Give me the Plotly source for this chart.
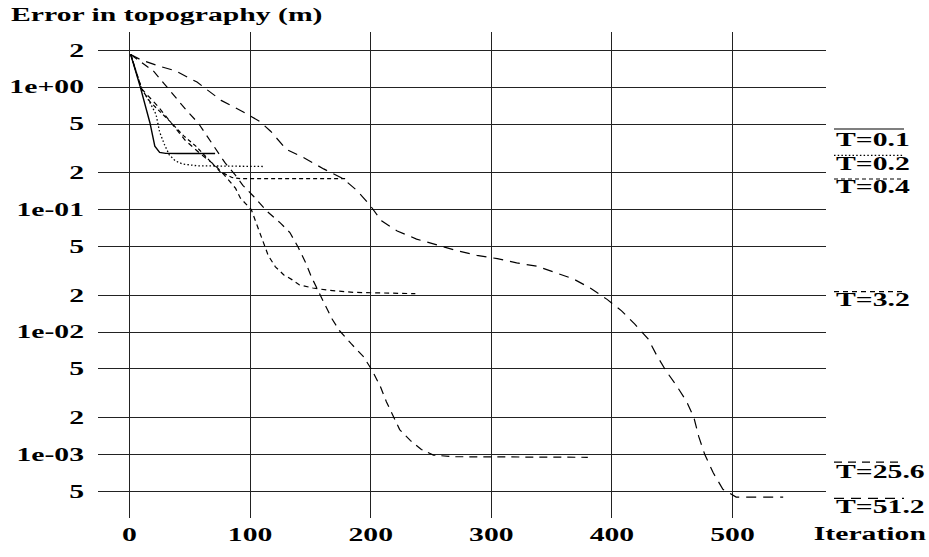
import plotly.graph_objects as go

# ---------------- data ----------------
t01_iter = [1, 9, 17, 21, 25, 30, 40, 71]
t01_err = [1.85, 1.0, 0.51, 0.33, 0.293, 0.288, 0.287, 0.287]

t02_iter = [1, 10, 16, 22, 25, 29, 33, 38, 44, 56, 112]
t02_err = [1.85, 0.97, 0.78, 0.6, 0.43, 0.34, 0.28, 0.25, 0.236, 0.228, 0.225]

t04_iter = [1, 10, 17, 27, 34, 45, 55, 65, 75, 85, 92, 180]
t04_err = [1.85, 0.97, 0.76, 0.61, 0.52, 0.4, 0.33, 0.26, 0.205, 0.183, 0.179, 0.179]

t32_iter = [1, 10, 24, 38, 46, 58, 71, 79, 88, 92, 101, 106, 111, 115, 121, 128,
            135, 141, 152, 166, 186, 202, 237]
t32_err = [1.85, 0.97, 0.69, 0.46, 0.37, 0.29, 0.23, 0.19, 0.149, 0.124, 0.1, 0.0735,
           0.054, 0.0423, 0.0341, 0.0293, 0.0267, 0.0243, 0.0229, 0.0219, 0.0211,
           0.0209, 0.0206]

t256_iter = [1, 10, 20, 29, 38, 47, 57, 64, 70, 79, 88, 94, 103, 114, 125, 133, 140,
             146, 151, 157, 162, 168, 174, 184, 194, 201, 208, 213, 219, 224, 233,
             242, 252, 269, 380]
t256_err = [1.85, 1.6, 1.35, 1.06, 0.83, 0.65, 0.51, 0.40, 0.33, 0.243, 0.19, 0.158,
            0.128, 0.097, 0.078, 0.065, 0.049, 0.037, 0.028, 0.0215, 0.0168, 0.0128,
            0.0103, 0.0080, 0.0063, 0.0049, 0.0036, 0.0027, 0.0020, 0.0016, 0.0013,
            0.0011, 0.00099, 0.00096, 0.00095]

t512_iter = [1, 9, 24, 38, 56, 76, 94, 108, 117, 130, 144, 161, 177, 188, 199, 209,
             222, 238, 255, 271, 288, 305, 321, 338, 351, 368, 382, 396, 408, 419,
             430, 437, 445, 454, 462, 468, 472, 477, 484, 492, 503, 542]
t512_err = [1.85, 1.68, 1.49, 1.36, 1.1, 0.78, 0.63, 0.525, 0.437, 0.311, 0.267,
            0.215, 0.179, 0.145, 0.11, 0.081, 0.067, 0.0575, 0.0515, 0.0464, 0.0423,
            0.0398, 0.0367, 0.0345, 0.0311, 0.0272, 0.0229, 0.0185, 0.0149, 0.0116,
            0.0088, 0.0065, 0.0048, 0.0036, 0.0027, 0.002, 0.0014, 0.001, 0.00071,
            0.00052, 0.00045, 0.00045]

series_names = ["T=0.1", "T=0.2", "T=0.4", "T=3.2", "T=25.6", "T=51.2"]

x_tickvals = [0, 100, 200, 300, 400, 500]
x_ticktext = ["0", "100", "200", "300", "400", "500"]
y_tickvals = [2, 1, 0.5, 0.2, 0.1, 0.05, 0.02, 0.01, 0.005, 0.002, 0.001, 0.0005]
y_ticktext = ["2", "1e+00", "5", "2", "1e-01", "5", "2", "1e-02", "5", "2", "1e-03", "5"]

# ---------------- style ----------------
W, H = 929, 557
ML, MR, MT, MB = 98, 103, 32, 29
PW, PH = W - ML - MR, H - MT - MB
FONT = "Liberation Serif"
FS = 18

series = [
    (t01_iter, t01_err, "solid", 1.4),
    (t02_iter, t02_err, "1.5px,2.2px", 1.3),
    (t04_iter, t04_err, "4px,3px", 1.2),
    (t32_iter, t32_err, "5px,4px", 1.2),
    (t256_iter, t256_err, "8px,6px", 1.2),
    (t512_iter, t512_err, "10px,7px", 1.2),
]

fig = go.Figure()
for (xs, ys, dash, w), name in zip(series, series_names):
    fig.add_trace(go.Scatter(x=xs, y=ys, mode="lines", name=name,
                             line=dict(color="#000", width=w, dash=dash),
                             showlegend=False))


def px_x(px):
    return (px - ML) / PW


def px_y(py):
    return (H - MB - py) / PH


legend_text_y = [142, 167, 190, 306, 481, 517]
legend_line_y = [131, 158, 182, 297, 471, 508]
legend_dash = [s[2] for s in series]

tfont = dict(family=FONT, size=FS, color="#000", weight="bold")
annotations = []
shapes = []
for name, ty, ly, dash in zip(series_names, legend_text_y, legend_line_y, legend_dash):
    annotations.append(dict(text=name, xref="paper", yref="paper", x=px_x(834), y=px_y(ty),
                            xanchor="left", yanchor="middle", showarrow=False, font=tfont))
    shapes.append(dict(type="line", xref="paper", yref="paper",
                       x0=px_x(834), x1=px_x(904), y0=px_y(ly), y1=px_y(ly),
                       line=dict(color="#000", width=1.2, dash=dash)))

annotations.append(dict(text="Error in topography (m)", xref="paper", yref="paper",
                        x=px_x(9), y=px_y(15), xanchor="left", yanchor="middle",
                        showarrow=False, font=tfont))
annotations.append(dict(text="Iteration", xref="paper", yref="paper",
                        x=px_x(928), y=px_y(544), xanchor="right", yanchor="middle",
                        showarrow=False, font=tfont))

fig.update_layout(
    width=W, height=H,
    margin=dict(l=ML, r=MR, t=MT, b=MB, pad=0),
    plot_bgcolor="white", paper_bgcolor="white",
    annotations=annotations, shapes=shapes,
    xaxis=dict(range=[-26.1, 577.5], tickvals=x_tickvals, ticktext=x_ticktext,
               showgrid=True, gridcolor="#222", gridwidth=1, zeroline=False,
               showline=False, ticks="", ticklabelstandoff=4, tickfont=tfont),
    yaxis=dict(type="log", range=[-3.518, 0.4504], tickvals=y_tickvals,
               ticktext=y_ticktext, showgrid=True, gridcolor="#222", gridwidth=1,
               zeroline=False, showline=False, ticks="", ticklabelstandoff=13,
               tickfont=tfont),
)

# The reference text is set in a horizontally wide face; widen the rendered text.
post_js = """
var gd = document.querySelector('div.plotly-graph-div');
var S = 1.65;
function stretch(el, mode) {
  var b = el.getBBox();
  var px = mode === 'left' ? b.x : (mode === 'right' ? b.x + b.width : b.x + b.width / 2);
  var t = el.getAttribute('transform') || '';
  el.setAttribute('transform', t + ' translate(' + px + ',0) scale(' + S + ',1) translate(' + (-px) + ',0)');
}
gd.querySelectorAll('g.ytick text').forEach(function (e) { stretch(e, 'right'); });
gd.querySelectorAll('g.xtick text').forEach(function (e) { stretch(e, 'center'); });
gd.querySelectorAll('text.annotation-text').forEach(function (e) {
  stretch(e, e.textContent === 'Iteration' ? 'right' : 'left');
});
"""

fig.write_html("out.html", post_script=post_js)
